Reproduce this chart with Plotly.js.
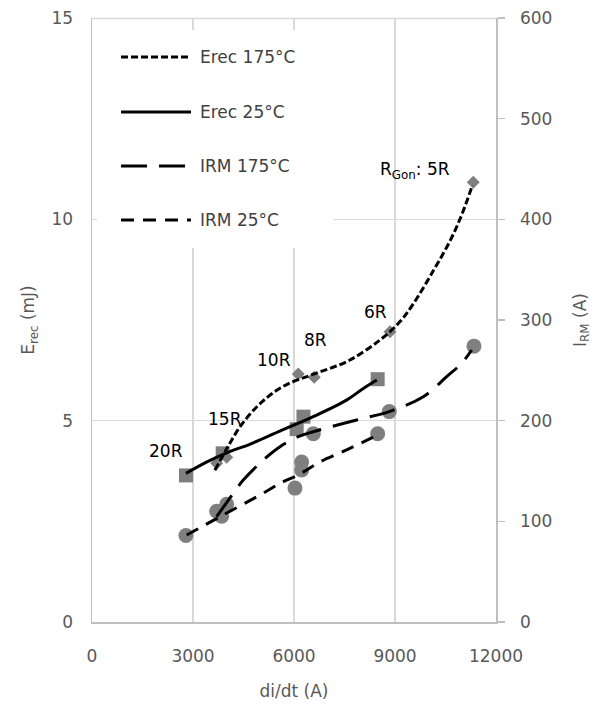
<!DOCTYPE html>
<html><head><meta charset="utf-8">
<script src="https://cdn.plot.ly/plotly-3.0.1.min.js"></script>
<style>html,body{margin:0;padding:0;background:#fff}#chart{width:601px;height:704px}</style>
</head><body><div id="chart"></div>
<script>
// Measured points (markers)
const erec175X = [3703, 4000, 6127, 6602, 8851, 11325];
const erec175Y = [3.94, 4.09, 6.16, 6.08, 7.21, 10.92];
const erec25X = [2792, 3882, 6080, 6281, 8485];
const erec25Y = [3.64, 4.19, 4.79, 5.10, 6.03];
const irm175X = [3703, 4000, 6227, 6574, 8830, 11345];
const irm175Y = [110, 117, 159, 187, 209, 274];
const irm25X = [2790, 3852, 6029, 6227, 8485];
const irm25Y = [86, 105, 133, 151, 187];

// Trendlines
const erec175TrendX = [3650, 4000, 4400, 5000, 5700, 6600, 7600, 8550, 9150, 9550, 10150, 10650, 11000, 11300];
const erec175TrendY = [3.77, 4.3, 4.85, 5.43, 5.86, 6.16, 6.48, 7.0, 7.46, 7.91, 8.74, 9.49, 10.15, 10.85];
const erec25TrendX = [2790, 3400, 4000, 4700, 5580, 6570, 7560, 8060, 8460];
const erec25TrendY = [3.69, 3.97, 4.2, 4.42, 4.74, 5.10, 5.51, 5.80, 6.01];
const irm175TrendX = [3703, 4196, 4493, 5087, 5584, 6127, 6574, 7860, 8830, 9840, 10534, 10980, 11277];
const irm175TrendY = [104.6, 127.9, 141, 160.9, 174.2, 184.1, 189, 200.7, 209, 223.8, 243.7, 257, 270.2];
const irm25TrendX = [2812, 3802, 4990, 5682, 6029, 6376, 6772, 7564, 8485];
const irm25TrendY = [86.4, 104.6, 126.2, 139.4, 144.4, 151, 159, 171, 185.8];

// Legend entries and labels
const legendNames = ["Erec 175°C", "Erec 25°C", "IRM 175°C", "IRM 25°C"];
const legendDashes = ["7px,3px", "solid", "26px,12px", "13px,9px"];
const rLabels = ["20R", "15R", "10R", "8R", "6R", "R<sub>Gon</sub>: 5R"];
const rLabelX = [2198, 3950, 5405, 6653, 8435, 9593];
const rLabelY = [4.25, 5.04, 6.51, 7.0, 7.70, 11.22];

const FONT = "DejaVu Sans";
const GRAY = "#7f7f7f";
const TXT = "#595959";

const mk = (x, y, sym, size, yaxis) => ({
  x, y, type: "scatter", mode: "markers", yaxis, showlegend: false,
  marker: {symbol: sym, size, color: GRAY}, hoverinfo: "skip"
});
const ln = (x, y, dash, yaxis, name) => ({
  x, y, type: "scatter", mode: "lines", yaxis, name, showlegend: false,
  line: {color: "#000", width: 3, dash, shape: "spline", smoothing: 1}, hoverinfo: "skip"
});

const data = [
  mk(irm25X, irm25Y, "circle", 15, "y2"),
  mk(irm175X, irm175Y, "circle", 15, "y2"),
  mk(erec25X, erec25Y, "square", 14, "y"),
  mk(erec175X, erec175Y, "diamond", 10, "y"),
  ln(irm25TrendX, irm25TrendY, legendDashes[3], "y2", legendNames[3]),
  ln(irm175TrendX, irm175TrendY, legendDashes[2], "y2", legendNames[2]),
  ln(erec25TrendX, erec25TrendY, legendDashes[1], "y", legendNames[1]),
  ln(erec175TrendX, erec175TrendY, legendDashes[0], "y", legendNames[0])
];

// manual legend + top gridline
const legY = [0.9354, 0.8444, 0.755, 0.6656];
const shapes = [
  {type: "line", xref: "paper", yref: "paper", x0: 0, x1: 1, y0: 0.999, y1: 0.999,
   line: {color: "#d9d9d9", width: 1.5}, layer: "above"},
  {type: "rect", xref: "paper", yref: "paper", x0: 0.0124, x1: 0.599, y0: 0.619, y1: 0.980,
   fillcolor: "#fff", line: {width: 0}, layer: "above"}
];
const annotations = [];
legendNames.forEach((n, i) => {
  shapes.push({type: "line", xref: "paper", yref: "paper", x0: 0.0718, x1: 0.245, y0: legY[i], y1: legY[i],
    line: {color: "#000", width: 3, dash: legendDashes[i]}, layer: "above"});
  annotations.push({xref: "paper", yref: "paper", x: 0.2624, y: legY[i], xanchor: "left", yanchor: "middle",
    text: n, showarrow: false, font: {family: FONT, size: 17, color: "#404040"}});
});
rLabels.forEach((t, i) => {
  annotations.push({xref: "x", yref: "y", x: rLabelX[i], y: rLabelY[i], text: t, showarrow: false,
    xanchor: "center", yanchor: "middle", font: {family: FONT, size: 17, color: "#000"}});
});

const layout = {
  width: 601, height: 704,
  margin: {l: 92, r: 105, t: 18, b: 82},
  paper_bgcolor: "#fff", plot_bgcolor: "#fff",
  font: {family: FONT, size: 17, color: TXT},
  showlegend: false,
  xaxis: {
    range: [0, 12000], dtick: 3000, tick0: 0, tickformat: "d",
    showgrid: true, gridcolor: "#d9d9d9", gridwidth: 1.5,
    showline: true, linecolor: "#bfbfbf", linewidth: 1.5,
    ticks: "", ticklabelstandoff: 18, zeroline: false,
    title: {text: "di/dt (A)", standoff: 20, font: {family: FONT, size: 17, color: TXT}}
  },
  yaxis: {
    range: [0, 15], dtick: 5, tick0: 0,
    showgrid: true, gridcolor: "#d9d9d9", gridwidth: 1.5,
    showline: true, linecolor: "#bfbfbf", linewidth: 1.5,
    ticks: "", ticklabelstandoff: 14, zeroline: false,
    title: {text: "E<sub>rec</sub> (mJ)", standoff: 12, font: {family: FONT, size: 17, color: TXT}}
  },
  yaxis2: {
    overlaying: "y", side: "right", range: [0, 600], dtick: 100, tick0: 0,
    showgrid: false, showline: true, linecolor: "#bfbfbf", linewidth: 1.5,
    ticks: "outside", ticklen: 7, tickcolor: "#bfbfbf", tickwidth: 1.5, ticklabelstandoff: 12, zeroline: false,
    title: {text: "I<sub>RM</sub> (A)", standoff: 22, font: {family: FONT, size: 17, color: TXT}}
  },
  shapes, annotations
};

Plotly.newPlot("chart", data, layout, {displayModeBar: false, staticPlot: true});
</script>
</body></html>
